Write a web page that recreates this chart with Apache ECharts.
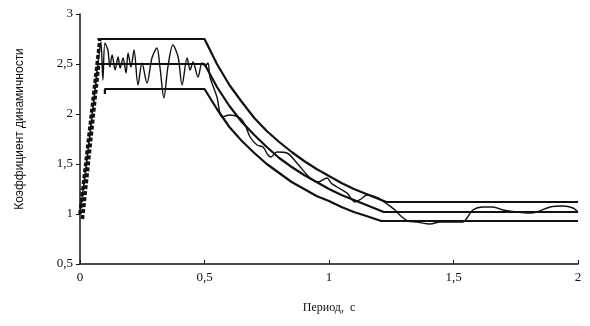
<!DOCTYPE html>
<html><head><meta charset="utf-8">
<script src="https://cdn.jsdelivr.net/npm/echarts@6/dist/echarts.min.js"></script>
<style>html,body{margin:0;padding:0;background:#fff}#c{width:590px;height:326px}</style>
</head><body><div id="c"></div>
<script>
var xTicks = [0, 0.5, 1, 1.5, 2];
var yTicks = [0.5, 1, 1.5, 2, 2.5, 3];
var xTitle = 'Период,  с';
var yTitle = 'Коэффициент динамичности';

var upperRise = [[0.0, 1.0], [0.08, 2.75]];
var middleRise = [[0.01, 0.95], [0.075, 2.5]];
var upperEnv = [[0.07, 2.75], [0.5, 2.75], [0.55, 2.5], [0.6, 2.29], [0.65, 2.12], [0.7, 1.96], [0.75, 1.83], [0.8, 1.72], [0.85, 1.62], [0.9, 1.53], [0.95, 1.45], [1.0, 1.38], [1.05, 1.31], [1.1, 1.25], [1.15, 1.2], [1.23, 1.12], [2.0, 1.12]];
var middleEnv = [[0.07, 2.5], [0.5, 2.5], [0.55, 2.27], [0.6, 2.08], [0.65, 1.92], [0.7, 1.79], [0.75, 1.67], [0.8, 1.56], [0.85, 1.47], [0.9, 1.39], [0.95, 1.32], [1.0, 1.25], [1.05, 1.19], [1.1, 1.14], [1.15, 1.09], [1.22, 1.02], [2.0, 1.02]];
var lowerEnv = [[0.1, 2.2], [0.1, 2.25], [0.5, 2.25], [0.55, 2.05], [0.6, 1.87], [0.65, 1.73], [0.7, 1.61], [0.75, 1.5], [0.8, 1.41], [0.85, 1.32], [0.9, 1.25], [0.95, 1.18], [1.0, 1.13], [1.05, 1.07], [1.1, 1.02], [1.15, 0.98], [1.21, 0.93], [2.0, 0.93]];
var response = [[0.0, 1.0], [0.032, 1.64], [0.06, 2.24], [0.076, 2.59], [0.084, 2.72], [0.092, 2.34], [0.1, 2.71], [0.112, 2.64], [0.12, 2.47], [0.129, 2.59], [0.141, 2.44], [0.153, 2.57], [0.161, 2.46], [0.173, 2.56], [0.185, 2.41], [0.193, 2.61], [0.205, 2.47], [0.217, 2.64], [0.233, 2.29], [0.249, 2.51], [0.269, 2.31], [0.289, 2.56], [0.309, 2.66], [0.321, 2.47], [0.337, 2.16], [0.353, 2.47], [0.373, 2.69], [0.394, 2.57], [0.41, 2.29], [0.43, 2.56], [0.442, 2.44], [0.454, 2.52], [0.474, 2.37], [0.49, 2.51], [0.502, 2.48], [0.514, 2.51], [0.522, 2.37], [0.55, 2.17], [0.57, 1.97], [0.602, 1.99], [0.643, 1.96], [0.663, 1.89], [0.683, 1.77], [0.711, 1.69], [0.735, 1.67], [0.755, 1.59], [0.767, 1.57], [0.791, 1.62], [0.831, 1.61], [0.871, 1.51], [0.924, 1.36], [0.956, 1.32], [0.992, 1.36], [1.008, 1.31], [1.032, 1.27], [1.072, 1.21], [1.104, 1.12], [1.129, 1.15], [1.153, 1.19], [1.197, 1.16], [1.233, 1.1], [1.265, 1.04], [1.293, 0.97], [1.317, 0.93], [1.353, 0.92], [1.406, 0.9], [1.446, 0.92], [1.538, 0.92], [1.554, 0.96], [1.578, 1.04], [1.618, 1.07], [1.659, 1.07], [1.699, 1.04], [1.755, 1.02], [1.807, 1.01], [1.835, 1.02], [1.888, 1.07], [1.94, 1.08], [1.98, 1.06], [2.0, 1.02]];

var fmt = function (v) { return String(v).replace('.', ','); };
var ink = '#111';
function line(data, w, dashed, smooth) {
  return { type: 'line', data: data, symbol: 'none', smooth: smooth || false, animation: false,
    lineStyle: { color: ink, width: w, type: dashed ? [4, 2] : 'solid' } };
}
var chart = echarts.init(document.getElementById('c'));
chart.setOption({
  backgroundColor: '#fff',
  animation: false,
  grid: { left: 80, right: 12, top: 14, bottom: 62, containLabel: false },
  xAxis: {
    type: 'value', min: xTicks[0], max: xTicks[xTicks.length - 1], interval: 0.5,
    name: xTitle, nameLocation: 'middle', nameGap: 38,
    nameTextStyle: { fontFamily: 'Liberation Serif', fontSize: 12, color: ink },
    axisLine: { lineStyle: { color: ink, width: 1.5 } },
    axisTick: { show: true, inside: true, length: 4, lineStyle: { color: ink } },
    axisLabel: { formatter: fmt, fontFamily: 'Liberation Serif', fontSize: 13, color: ink, margin: 7 },
    splitLine: { show: false }
  },
  yAxis: {
    type: 'value', min: yTicks[0], max: yTicks[yTicks.length - 1], interval: 0.5,
    name: yTitle, nameLocation: 'middle', nameGap: 54,
    nameTextStyle: { fontFamily: 'Liberation Sans', fontSize: 12, color: ink, padding: [0, 0, 0, 20] },
    axisLine: { show: true, lineStyle: { color: ink, width: 1.5 } },
    axisTick: { show: true, length: 4, lineStyle: { color: ink } },
    axisLabel: { formatter: fmt, fontFamily: 'Liberation Serif', fontSize: 13, color: ink, margin: 7 },
    splitLine: { show: false }
  },
  series: [
    line(upperRise, 3.5, true),
    line(middleRise, 3.5, true),
    line(upperEnv, 2.2, false),
    line(middleEnv, 2.2, false),
    line(lowerEnv, 2.2, false),
    line(response, 1.4, false, 0.3)
  ]
});
</script></body></html>
